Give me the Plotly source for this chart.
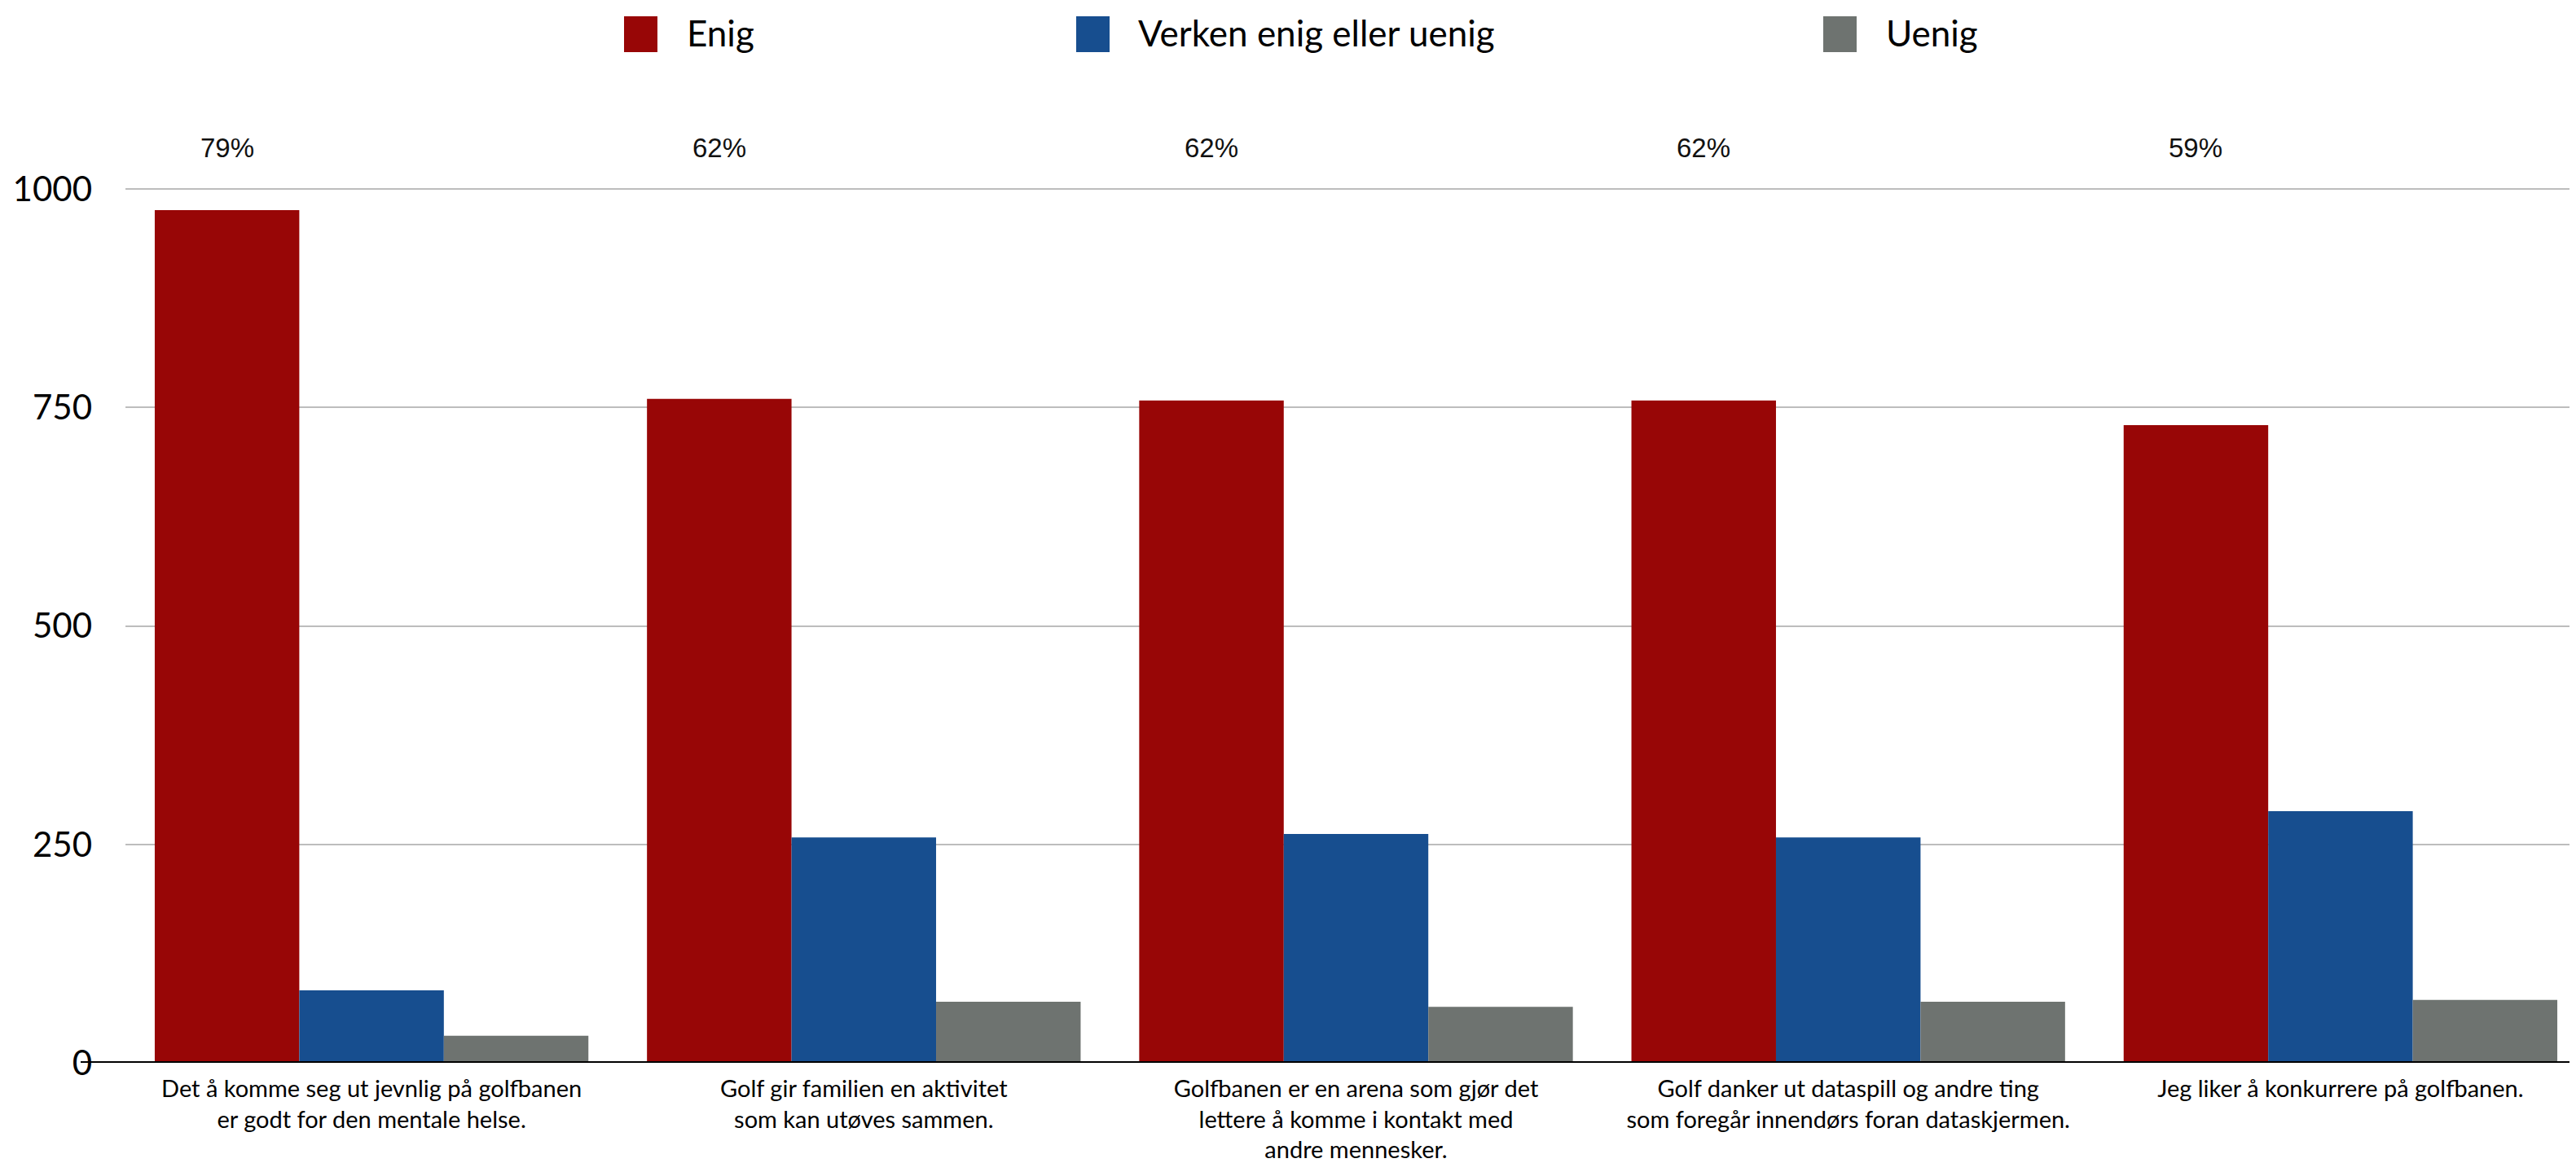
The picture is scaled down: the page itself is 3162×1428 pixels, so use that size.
import plotly.graph_objects as go

categories = [
    "Det å komme seg ut jevnlig på golfbanen<br>er godt for den mentale helse.",
    "Golf gir familien en aktivitet<br>som kan utøves sammen.",
    "Golfbanen er en arena som gjør det<br>lettere å komme i kontakt med<br>andre mennesker.",
    "Golf danker ut dataspill og andre ting<br>som foregår innendørs foran dataskjermen.",
    "Jeg liker å konkurrere på golfbanen.",
]
enig = [976, 760, 758, 758, 730]
verken = [83, 258, 262, 258, 288]
uenig = [31, 70, 64, 70, 72]
pct_labels = ["79%", "62%", "62%", "62%", "59%"]
series_names = ["Enig", "Verken enig eller uenig", "Uenig"]
ytick_vals = [0, 250, 500, 750, 1000]

colors = ["#980606", "#174E8F", "#6E7370"]

OFF = 8  # page body margin offset
W, H = 3162 - OFF, 1428 - OFF
L, R, T, B = 154 - OFF, 0, 125 - OFF, 123
PW, PH = W - L - R, H - T - B
BARGAP = 0.119

def px_x(px):
    # px in page coordinates
    return (px - OFF - L) / PW

def px_y(py):
    return (H - B - (py - OFF)) / PH

fig = go.Figure()
for name, vals, col in zip(series_names, [enig, verken, uenig], colors):
    fig.add_trace(go.Bar(
        x=list(range(len(categories))), y=vals, name=name,
        marker=dict(color=col, line=dict(width=0)),
        showlegend=False,
    ))

# percentage labels above the "Enig" bars
for i, t in enumerate(pct_labels):
    fig.add_annotation(
        x=i - (1 - BARGAP) / 3, y=1047, xref="x", yref="y",
        text=t, showarrow=False, xanchor="center", yanchor="middle",
        font=dict(family="Liberation Sans, Arial", size=33, color="#111111"),
    )

# custom legend
leg_sw = [766, 1321, 2238]
leg_tx = [841, 1395, 2313]
for name, col, sx, tx in zip(series_names, colors, leg_sw, leg_tx):
    fig.add_shape(type="rect", xref="paper", yref="paper",
                  x0=px_x(sx), x1=px_x(sx + 41), y0=px_y(64), y1=px_y(20),
                  fillcolor=col, line=dict(width=0))
    fig.add_annotation(
        x=px_x(tx), y=px_y(40), xref="paper", yref="paper",
        text=name, showarrow=False, xanchor="left", yanchor="middle",
        font=dict(family="Lato, Open Sans, sans-serif", size=44, color="#000000"),
    )

# baseline axis line
fig.add_shape(type="line", xref="paper", yref="y",
              x0=px_x(99), x1=1, y0=0, y1=0,
              line=dict(color="#000000", width=4), layer="above")

fig.update_layout(
    width=W, height=H,
    margin=dict(l=L, r=R, t=T, b=B, pad=0),
    paper_bgcolor="white", plot_bgcolor="white",
    barmode="group", bargap=BARGAP, bargroupgap=0,
    showlegend=False,
    font=dict(family="Lato, Open Sans, sans-serif", color="#000000"),
)
fig.update_xaxes(
    tickmode="array", tickvals=list(range(len(categories))), ticktext=categories,
    range=[-0.5, 4.5 - 13 / 604.25],
    showgrid=False, zeroline=False, showline=False, ticks="",
    ticklabelstandoff=12,
    tickfont=dict(family="Lato, Open Sans, sans-serif", size=29, color="#000000"),
    tickangle=0,
)
fig.update_yaxes(
    range=[0, 1100], tickvals=ytick_vals, ticktext=[str(v) for v in ytick_vals],
    showgrid=True, gridcolor="#BDBDBD", gridwidth=2,
    zeroline=False, showline=False, ticks="",
    ticklabelstandoff=40,
    tickfont=dict(family="Lato, Open Sans, sans-serif", size=42, color="#000000"),
)

fig.write_html("out.html")
